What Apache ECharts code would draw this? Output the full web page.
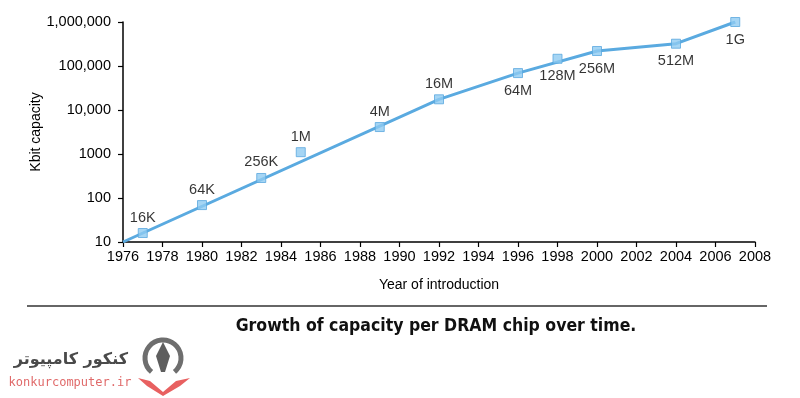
<!DOCTYPE html>
<html lang="en">
<head>
<meta charset="UTF-8">
<title>DRAM capacity</title>
<script src="https://cdn.jsdelivr.net/npm/echarts@6/dist/echarts.min.js"></script>
<style>
  html, body { margin: 0; padding: 0; background: #fff; }
  #chart { width: 800px; height: 398px; }
</style>
</head>
<body>
<div id="chart"></div>
<script>
// chip generations
var years = [1977, 1980, 1983, 1985, 1989, 1992, 1996, 1998, 2000, 2004, 2007];
var kbits = [16, 69, 285, 1100, 4100, 17500, 69000, 146000, 219000, 321000, 1000000];
var chipNames = ['16K', '64K', '256K', '1M', '4M', '16M', '64M', '128M', '256M', '512M', '1G'];
var labelBelow = [false, false, false, false, false, false, true, true, true, true, true];

// trend line drawn through the markers
var trendYears = [1976, 1992, 1996, 2000, 2004, 2007];
var trendKbits = [10, 17500, 69000, 219000, 321000, 1000000];

var yTicks = [10, 100, 1000, 10000, 100000, 1000000];

var txt = '#000';
var font = 'Liberation Sans, Arial, Helvetica, sans-serif';

var pts = years.map(function (y, i) {
  return {
    value: [y, kbits[i]],
    label: {
      position: labelBelow[i] ? 'bottom' : 'top',
      distance: labelBelow[i] ? 5 : 3
    }
  };
});
var trend = trendYears.map(function (y, i) { return [y, trendKbits[i]]; });

var myChart = echarts.init(document.getElementById('chart'));
var option = {
  animation: false,
  grid: { left: 123, right: 45, top: 22, bottom: 156 },
  xAxis: {
    type: 'value',
    min: 1976, max: 2008, interval: 2,
    name: 'Year of introduction',
    nameLocation: 'middle',
    nameGap: 36,
    nameTextStyle: { color: txt, fontSize: 14, fontFamily: font },
    axisLine: { lineStyle: { color: '#000', width: 1.5 } },
    axisTick: { show: true, length: 5, lineStyle: { color: '#000', width: 1.2 } },
    axisLabel: {
      color: txt, fontSize: 14.5, fontFamily: font, margin: 7,
      formatter: function (v) { return String(v); }
    },
    splitLine: { show: false }
  },
  yAxis: {
    type: 'log',
    logBase: 10,
    min: yTicks[0], max: yTicks[yTicks.length - 1],
    name: 'Kbit capacity',
    nameLocation: 'middle',
    nameGap: 80,
    nameMoveOverlap: false,
    nameTextStyle: { color: txt, fontSize: 14, fontFamily: font },
    axisLine: { show: true, lineStyle: { color: '#000', width: 1.5 } },
    axisTick: { show: true, length: 5, lineStyle: { color: '#000', width: 1.2 } },
    axisLabel: {
      color: txt, fontSize: 14.5, fontFamily: font, margin: 12,
      formatter: function (v) {
        return v >= 10000 ? Math.round(v).toLocaleString('en-US') : String(Math.round(v));
      }
    },
    splitLine: { show: false }
  },
  series: [
    {
      type: 'line',
      data: trend,
      symbol: 'none',
      lineStyle: { color: '#5aaae0', width: 3 },
      z: 2
    },
    {
      type: 'scatter',
      data: pts,
      symbol: 'rect',
      symbolSize: 9,
      itemStyle: { color: '#8ecbf1', borderColor: '#5aa8df', borderWidth: 1 },
      label: {
        show: true,
        color: txt,
        fontSize: 14.5,
        fontFamily: font,
        formatter: function (p) { return chipNames[p.dataIndex]; }
      },
      z: 3
    }
  ],
  graphic: [
    {
      type: 'line',
      shape: { x1: 27, y1: 306, x2: 767, y2: 306 },
      style: { stroke: '#333', lineWidth: 1.5 }
    },
    {
      type: 'text',
      x: 436, y: 326,
      style: {
        text: 'Growth of capacity per DRAM chip over time.',
        fill: '#111',
        font: '900 17.5px "Liberation Sans Narrow", "DejaVu Sans Condensed", Arial, sans-serif',
        align: 'center', verticalAlign: 'middle'
      }
    },
    // watermark
    {
      type: 'text',
      x: 128, y: 360,
      style: {
        text: 'کنکور کامپیوتر',
        fill: '#4a4a4a',
        font: 'bold 16px "DejaVu Sans", sans-serif',
        align: 'right', verticalAlign: 'middle'
      }
    },
    {
      type: 'text',
      x: 70, y: 383,
      style: {
        text: 'konkurcomputer.ir',
        fill: '#e06a6a',
        font: '12px "DejaVu Sans Mono", monospace',
        align: 'center', verticalAlign: 'middle'
      }
    },
    {
      type: 'arc',
      shape: { cx: 163, cy: 358, r: 18, startAngle: Math.PI * 0.72, endAngle: Math.PI * 2.28 },
      style: { stroke: '#6e6e6e', lineWidth: 5, fill: null }
    },
    {
      type: 'polygon',
      shape: { points: [[163, 342], [170, 356], [165, 372], [161, 372], [156, 356]] },
      style: { fill: '#5e5e5e' }
    },
    {
      type: 'polygon',
      shape: { points: [[138, 378], [150, 381], [163, 392], [176, 381], [190, 378], [180, 386], [163, 396], [147, 386]] },
      style: { fill: '#e86060' }
    }
  ]
};
myChart.setOption(option);
</script>
</body>
</html>
